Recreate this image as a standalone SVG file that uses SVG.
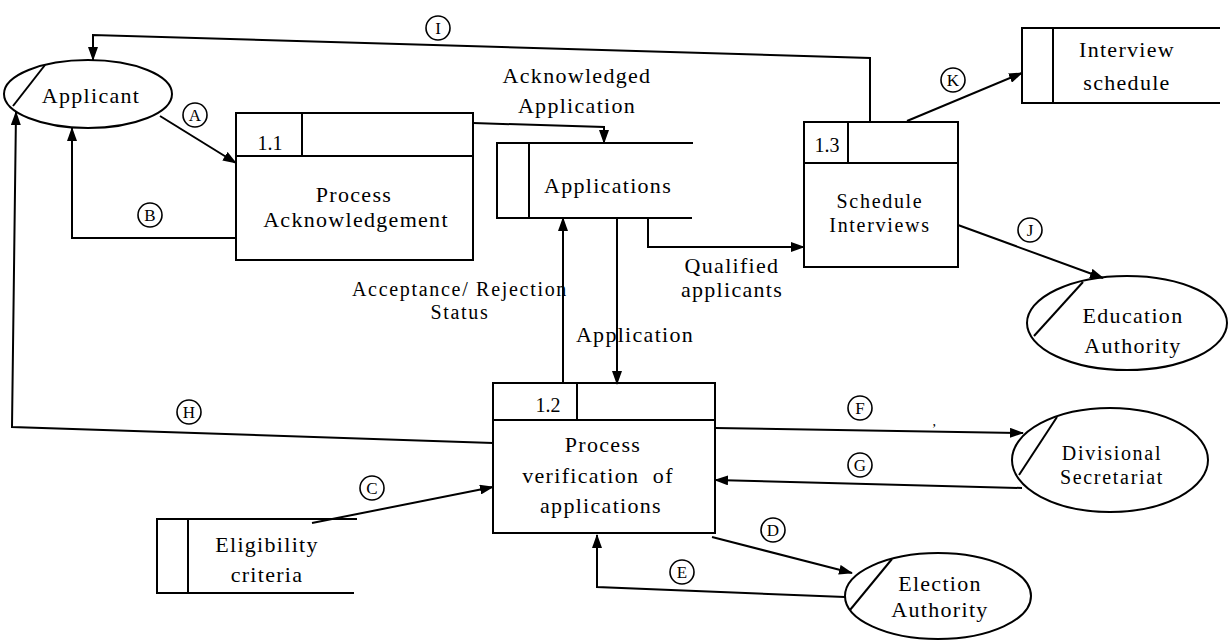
<svg xmlns="http://www.w3.org/2000/svg" width="1229" height="641" viewBox="0 0 1229 641">
<defs>
<marker id="ah" markerWidth="14" markerHeight="10" refX="13" refY="5" orient="auto" markerUnits="userSpaceOnUse">
<path d="M0,0 L14,5 L0,10 z" fill="#000"/>
</marker>
<style>
.s{fill:none;stroke:#000;stroke-width:2}
.c{fill:none;stroke:#000;stroke-width:2;marker-end:url(#ah)}
.t{font-family:"Liberation Serif","Times New Roman","DejaVu Serif",serif;font-size:22px;letter-spacing:1.3px;fill:#000;text-anchor:middle}
.k{font-size:20px;letter-spacing:1.7px}
.n{font-family:"Liberation Serif","Times New Roman","DejaVu Serif",serif;font-size:20px;fill:#000;text-anchor:middle}
.l{fill:#fff;stroke:#000;stroke-width:1.6}
.lt{font-family:"Liberation Serif","Times New Roman","DejaVu Serif",serif;font-size:17px;fill:#000;text-anchor:middle}
</style>
</defs>
<rect width="1229" height="641" fill="#fff"/>

<g id="connectors">
<polyline class="c" points="870,121 870,58 93,35 93,60"/>
<line class="c" x1="160" y1="116" x2="236" y2="163"/>
<polyline class="c" points="236,238 72,238 72,128"/>
<polyline class="c" points="493,443 12,427 16,112"/>
<polyline class="c" points="473,123 604,127 604,143"/>
<line class="c" x1="563" y1="383" x2="563" y2="218"/>
<line class="c" x1="617" y1="218" x2="617" y2="384"/>
<polyline class="c" points="648,218 648,247 804,247"/>
<line class="c" x1="907" y1="121" x2="1022" y2="73"/>
<line class="c" x1="958" y1="225" x2="1103" y2="278"/>
<line class="c" x1="312" y1="523" x2="493" y2="487"/>
<line class="c" x1="715" y1="428" x2="1023" y2="433"/>
<line class="c" x1="1022" y1="488" x2="715" y2="480"/>
<line class="c" x1="712" y1="537" x2="852" y2="573"/>
<polyline class="c" points="845,597 597,587 597,535"/>
<text class="t" x="577" y="83">Acknowledged</text>
<text class="t" x="577" y="113">Application</text>
<text class="t" x="732" y="273">Qualified</text>
<text class="t" x="732" y="297">applicants</text>
<text class="t k" x="460" y="296">Acceptance/ Rejection</text>
<text class="t k" x="460" y="319">Status</text>
<text class="t" x="635" y="342">Application</text>
<text class="t" x="935" y="426" style="font-size:14px">,</text>
<g id="labels">
<circle class="l" cx="195" cy="115" r="12"/><text class="lt" x="195" y="121">A</text>
<circle class="l" cx="150" cy="215" r="12"/><text class="lt" x="150" y="221">B</text>
<circle class="l" cx="438" cy="28" r="12"/><text class="lt" x="438" y="34">I</text>
<circle class="l" cx="953" cy="80" r="12"/><text class="lt" x="953" y="86">K</text>
<circle class="l" cx="1030" cy="230" r="12"/><text class="lt" x="1030" y="236">J</text>
<circle class="l" cx="189" cy="412" r="12"/><text class="lt" x="189" y="418">H</text>
<circle class="l" cx="372" cy="488" r="12"/><text class="lt" x="372" y="494">C</text>
<circle class="l" cx="860" cy="408" r="12"/><text class="lt" x="860" y="414">F</text>
<circle class="l" cx="860" cy="465" r="12"/><text class="lt" x="860" y="471">G</text>
<circle class="l" cx="773" cy="530" r="12"/><text class="lt" x="773" y="536">D</text>
<circle class="l" cx="682" cy="572" r="12"/><text class="lt" x="682" y="578">E</text>
</g>
</g>

<g id="applicant">
<ellipse class="s" cx="88" cy="94" rx="84" ry="34"/>
<line class="s" x1="45" y1="65" x2="13" y2="106"/>
<text class="t" x="91" y="103">Applicant</text>
</g>

<g id="p1_1">
<rect class="s" x="236" y="113" width="237" height="147"/>
<line class="s" x1="236" y1="156" x2="473" y2="156"/>
<line class="s" x1="302" y1="113" x2="302" y2="156"/>
<text class="n" x="270" y="150">1.1</text>
<text class="t" x="354" y="202">Process</text>
<text class="t" x="356" y="227">Acknowledgement</text>
</g>

<g id="applications">
<path class="s" d="M693,143 H497 V218 H692"/>
<line class="s" x1="529" y1="143" x2="529" y2="218"/>
<text class="t" x="608" y="193">Applications</text>
</g>

<g id="p1_3">
<rect class="s" x="804" y="122" width="154" height="145"/>
<line class="s" x1="804" y1="163" x2="958" y2="163"/>
<line class="s" x1="848" y1="122" x2="848" y2="163"/>
<text class="n" x="827" y="152">1.3</text>
<text class="t k" x="880" y="208">Schedule</text>
<text class="t k" x="880" y="232">Interviews</text>
</g>

<g id="interview_schedule">
<path class="s" d="M1220,28 H1022 V103 H1220"/>
<line class="s" x1="1053" y1="28" x2="1053" y2="103"/>
<text class="t" x="1127" y="57">Interview</text>
<text class="t" x="1127" y="90">schedule</text>
</g>

<g id="education_authority">
<ellipse class="s" cx="1127" cy="323" rx="100" ry="47"/>
<line class="s" x1="1083" y1="282" x2="1034" y2="336"/>
<text class="t" x="1133" y="323">Education</text>
<text class="t" x="1133" y="353">Authority</text>
</g>

<g id="p1_2">
<rect class="s" x="493" y="383" width="222" height="150"/>
<line class="s" x1="493" y1="420" x2="715" y2="420"/>
<line class="s" x1="577" y1="383" x2="577" y2="420"/>
<text class="n" x="548" y="412">1.2</text>
<text class="t" x="603" y="452">Process</text>
<text class="t" x="598" y="483" xml:space="preserve">verification  of</text>
<text class="t" x="601" y="513">applications</text>
</g>

<g id="divisional_secretariat">
<ellipse class="s" cx="1110" cy="460" rx="98" ry="52"/>
<line class="s" x1="1057" y1="417" x2="1019" y2="475"/>
<text class="t k" x="1112" y="460">Divisional</text>
<text class="t k" x="1112" y="484">Secretariat</text>
</g>

<g id="eligibility_criteria">
<path class="s" d="M357,519 H157 V593 H354"/>
<line class="s" x1="188" y1="519" x2="188" y2="593"/>
<text class="t" x="267" y="552">Eligibility</text>
<text class="t" x="267" y="582">criteria</text>
</g>

<g id="election_authority">
<ellipse class="s" cx="938" cy="596" rx="93" ry="43"/>
<line class="s" x1="892" y1="559" x2="850" y2="610"/>
<text class="t" x="940" y="591">Election</text>
<text class="t" x="940" y="617">Authority</text>
</g>
</svg>
